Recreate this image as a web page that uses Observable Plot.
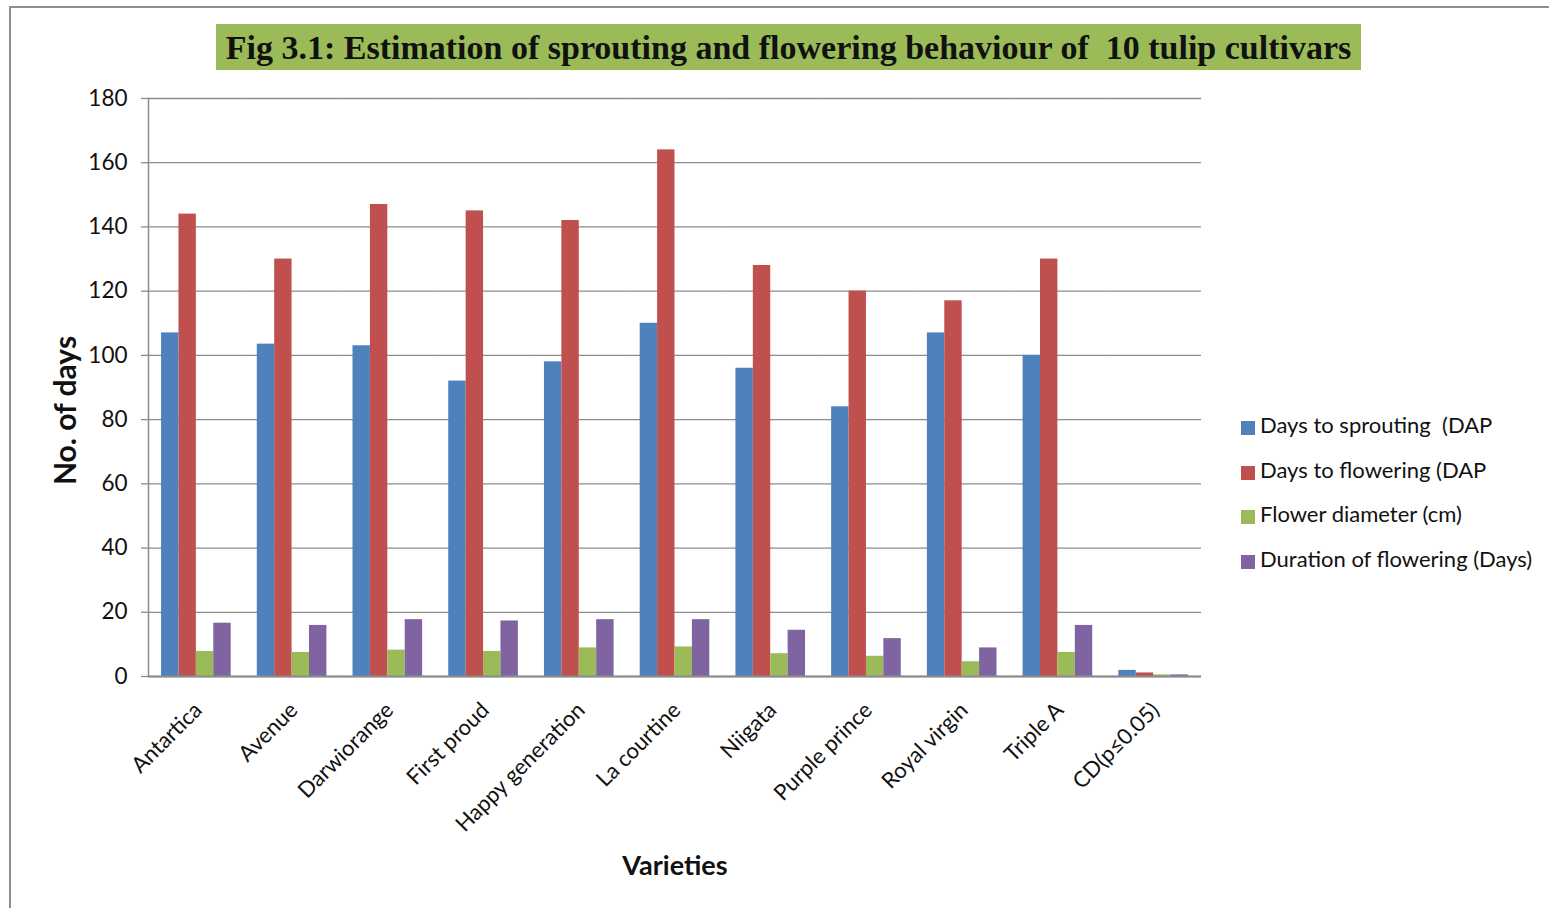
<!DOCTYPE html>
<html>
<head>
<meta charset="utf-8">
<script src="https://cdn.jsdelivr.net/npm/d3@7"></script>
<script src="https://cdn.jsdelivr.net/npm/@observablehq/plot@0.6"></script>
<style>
  html, body { margin: 0; padding: 0; background: #fff; }
  body { width: 1549px; height: 908px; position: relative; overflow: hidden; font-family: Lato, "Open Sans", sans-serif; }
  #frame { position: absolute; left: 9px; top: 6px; width: 1600px; height: 1000px; border-left: 2px solid #8e8e8e; border-top: 2px solid #8e8e8e; }
  #title { position: absolute; left: 216px; top: 24px; width: 1145px; height: 46px; background: #9BBB59; color: #111;
           font-family: "Liberation Serif", serif; font-weight: bold; font-size: 34px; line-height: 48px; text-align: center; white-space: pre; }
  #chart { position: absolute; left: 0; top: 0; }
  #legend { position: absolute; left: 1241px; top: 411px; font-family: Lato, sans-serif; font-size: 22px; color: #111; }
  .item { height: 44.5px; display: flex; align-items: flex-start; white-space: pre; }
  .sw { width: 14px; height: 14px; margin-top: 10px; margin-right: 5px; flex: none; }
</style>
</head>
<body>
<div id="frame"></div>
<div id="chart"></div>
<div id="title"></div>
<div id="legend"></div>
<script>
const titleText = "Fig 3.1: Estimation of sprouting and flowering behaviour of  10 tulip cultivars";
const xLabel = "Varieties";
const yLabel = "No. of days";
const varieties = ["Antartica", "Avenue", "Darwiorange", "First proud", "Happy generation", "La courtine", "Niigata", "Purple prince", "Royal virgin", "Triple A", "CD(p≤0.05)"];
const seriesNames = ["Days to sprouting  (DAP", "Days to flowering (DAP", "Flower diameter (cm)", "Duration of flowering (Days)"];
const seriesColors = ["#4F81BD", "#C0504D", "#9BBB59", "#8064A2"];
const sprouting = [107, 103.5, 103, 92, 98, 110, 96, 84, 107, 100, 1.9];
const flowering = [144, 130, 147, 145, 142, 164, 128, 120, 117, 130, 1.1];
const diameter  = [7.8, 7.5, 8.2, 7.8, 8.9, 9.2, 7.1, 6.3, 4.6, 7.5, 0.5];
const duration  = [16.6, 15.9, 17.7, 17.3, 17.7, 17.7, 14.4, 11.8, 8.9, 15.9, 0.5];
const yTicks = [0, 20, 40, 60, 80, 100, 120, 140, 160, 180];

document.getElementById("title").textContent = titleText;

const seriesValues = [sprouting, flowering, diameter, duration];
const table = [];
varieties.forEach((v, i) => {
  seriesNames.forEach((s, j) => table.push({variety: v, series: s, value: seriesValues[j][i]}));
});

const gray = "#8c8c8c";
const chart = Plot.plot({
  width: 1549,
  height: 908,
  marginLeft: 148,
  marginRight: 348,
  marginTop: 98,
  marginBottom: 232,
  style: {fontFamily: "Lato, sans-serif", fontSize: "22px", color: "#111", background: "transparent"},
  fx: {domain: varieties, padding: 0, round: false, axis: null, label: null},
  x: {domain: seriesNames, paddingInner: 0, paddingOuter: 0.75, round: false, axis: null},
  y: {domain: [0, 180], ticks: yTicks, label: null},
  color: {domain: seriesNames, range: seriesColors},
  marks: [
    Plot.gridY(yTicks, {stroke: gray, strokeOpacity: 1, strokeWidth: 1.3}),
    Plot.axisY(yTicks, {tickSize: 7, tickPadding: 14, stroke: gray, strokeWidth: 1.3, fontSize: 22.5, fill: "#111", label: null}),
    Plot.barY(table, {fx: "variety", x: "series", y: "value", fill: "series"}),
    Plot.ruleY([0], {stroke: gray, strokeWidth: 2}),
    Plot.frame({anchor: "left", stroke: gray, strokeWidth: 1.5, facet: "super"}),
    Plot.text(varieties, {fx: d => d, text: d => d, frameAnchor: "bottom", rotate: -45, textAnchor: "end", lineAnchor: "middle", dx: 2, dy: 30, fontSize: 22, fill: "#111"}),
    Plot.text([xLabel], {text: d => d, frameAnchor: "bottom", dy: 190, lineAnchor: "middle", fontSize: 27, fontWeight: "bold", fill: "#111", facet: "super"}),
    Plot.text([yLabel], {text: d => d, frameAnchor: "left", dx: -82, dy: 23, rotate: -90, lineAnchor: "middle", textAnchor: "middle", fontSize: 30, fontWeight: "bold", fill: "#111", facet: "super"})
  ]
});
document.getElementById("chart").appendChild(chart);

const legend = document.getElementById("legend");
seriesNames.forEach((s, i) => {
  const row = document.createElement("div");
  row.className = "item";
  const sw = document.createElement("span");
  sw.className = "sw";
  sw.style.background = seriesColors[i];
  const t = document.createElement("span");
  t.textContent = s;
  row.appendChild(sw); row.appendChild(t);
  legend.appendChild(row);
});
</script>
</body>
</html>
